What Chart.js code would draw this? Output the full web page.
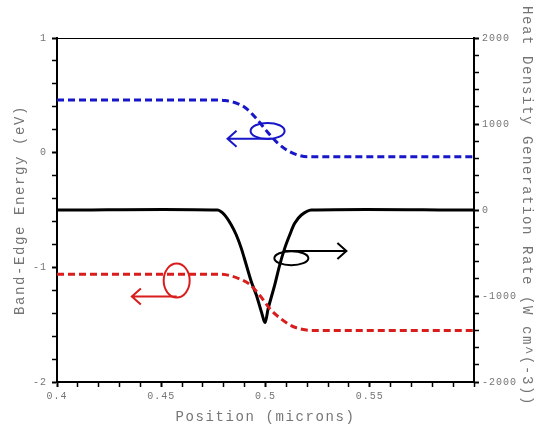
<!DOCTYPE html>
<html>
<head>
<meta charset="utf-8">
<script src="https://cdn.jsdelivr.net/npm/chart.js@4/dist/chart.umd.min.js"></script>
<style>
html, body { margin: 0; padding: 0; background: #fff; }
</style>
</head>
<body>
<canvas id="bandChart" width="539" height="426"></canvas>
<script>
// conduction band edge (left axis, eV)
var cbPos    = [0.400, 0.475, 0.4805, 0.4855, 0.4905, 0.4955, 0.5005, 0.5055, 0.5105, 0.5155, 0.5205, 0.600];
var cbEnergy = [0.46,  0.46,  0.455,  0.435,  0.39,   0.30,   0.19,   0.09,   0.02,   -0.02,  -0.035, -0.035];

// valence band edge (left axis, eV)
var vbPos    = [0.400, 0.477, 0.4825, 0.4875, 0.4925, 0.4975, 0.5025, 0.5075, 0.5125, 0.5175, 0.5225, 0.600];
var vbEnergy = [-1.06, -1.06, -1.07,  -1.10,  -1.15,  -1.25,  -1.37,  -1.45,  -1.51,  -1.54,  -1.55,  -1.55];

// heat density generation rate (right axis, W cm^-3)
var heatPos  = [0.400, 0.4770, 0.4804, 0.4836, 0.4860, 0.4884, 0.4908, 0.4932, 0.4956, 0.4980, 0.4998, 0.5013, 0.5044, 0.5068, 0.5092, 0.5116, 0.5140, 0.5172, 0.5220, 0.600];
var heatRate = [0,     0,      -58,    -174,   -291,   -446,   -640,   -834,   -989,   -1182,  -1307,  -1144,  -873,   -640,   -446,   -291,   -155,   -58,    0,      0];

var xLabels  = [0.4, 0.45, 0.5, 0.55];
var leftLabels  = [1, 0, -1, -2];
var rightLabels = [2000, 1000, 0, -1000, -2000];

var blue = '#1717c9';
var red = '#d91c1c';
var textGray = '#757575';
var monoFont = '"Liberation Mono", "DejaVu Sans Mono", monospace';

function toPoints(xs, ys) {
    return xs.map(function (x, i) { return {x: x, y: ys[i]}; });
}

function near(v, list) {
    for (var i = 0; i < list.length; i++) {
        if (Math.abs(v - list[i]) < 1e-6) return true;
    }
    return false;
}

// the little circle-and-arrow markers that point each curve at its axis
var curveNotes = [
    {axis: 'y',  x: 0.5010, y: 0.19,   rx: 17, ry: 8,  color: blue,   lineY: 0.122,  from: 0.5029, to: 0.4818},
    {axis: 'y',  x: 0.4574, y: -1.115, rx: 13, ry: 17, color: red,    lineY: -1.255, from: 0.4574, to: 0.4359},
    {axis: 'y2', x: 0.5124, y: -560,   rx: 17, ry: 7,  color: '#000', lineY: -477,   from: 0.5091, to: 0.5388}
];

var decorPlugin = {
    id: 'decor',
    beforeDraw: function (chart) {
        chart.ctx.letterSpacing = '1px';
    },
    afterDatasetsDraw: function (chart) {
        var ctx = chart.ctx;
        var xs = chart.scales.x;
        ctx.save();
        ctx.lineWidth = 2;
        curveNotes.forEach(function (n) {
            var ys = chart.scales[n.axis];
            var cx = xs.getPixelForValue(n.x), cy = ys.getPixelForValue(n.y);
            var ly = ys.getPixelForValue(n.lineY);
            var x0 = xs.getPixelForValue(n.from), x1 = xs.getPixelForValue(n.to);
            var dir = x1 < x0 ? 1 : -1;
            ctx.strokeStyle = n.color;
            ctx.beginPath();
            ctx.ellipse(cx, cy, n.rx, n.ry, 0, 0, Math.PI * 2);
            ctx.stroke();
            ctx.beginPath();
            ctx.moveTo(x0, ly);
            ctx.lineTo(x1, ly);
            ctx.moveTo(x1 + dir * 9, ly - 8);
            ctx.lineTo(x1, ly);
            ctx.lineTo(x1 + dir * 9, ly + 8);
            ctx.stroke();
        });
        ctx.restore();
    },
    afterDraw: function (chart) {
        var ctx = chart.ctx;
        var a = chart.chartArea;
        ctx.save();
        // thin top frame
        ctx.strokeStyle = '#000';
        ctx.lineWidth = 1;
        ctx.beginPath();
        ctx.moveTo(a.left, a.top + 0.5);
        ctx.lineTo(a.right, a.top + 0.5);
        ctx.stroke();

        // axis titles
        ctx.fillStyle = textGray;
        ctx.font = '14px ' + monoFont;
        ctx.letterSpacing = '1.6px';
        ctx.textAlign = 'center';
        ctx.textBaseline = 'middle';
        var midY = (a.top + a.bottom) / 2;

        ctx.fillText('Position (microns)', (a.left + a.right) / 2, 417);

        ctx.save();
        ctx.translate(20, midY);
        ctx.rotate(-Math.PI / 2);
        ctx.fillText('Band-Edge Energy (eV)', 0, 0);
        ctx.restore();

        ctx.save();
        ctx.translate(527, midY - 4);
        ctx.rotate(Math.PI / 2);
        ctx.fillText('Heat Density Generation Rate (W cm^(-3))', 0, 0);
        ctx.restore();
        ctx.restore();
    }
};

var tickGrid = {
    drawOnChartArea: false,
    drawTicks: true,
    tickLength: 5,
    tickColor: '#000',
    tickWidth: function (c) { return c.tick && c.tick.label !== '' ? 2 : 1.5; }
};
var tickFont = {family: monoFont, size: 10};

new Chart(document.getElementById('bandChart').getContext('2d'), {
    type: 'line',
    data: {
        datasets: [
            {
                label: 'Conduction band',
                data: toPoints(cbPos, cbEnergy),
                yAxisID: 'y',
                borderColor: blue,
                borderWidth: 3,
                borderDash: [7, 4],
                pointRadius: 0,
                cubicInterpolationMode: 'monotone'
            },
            {
                label: 'Valence band',
                data: toPoints(vbPos, vbEnergy),
                yAxisID: 'y',
                borderColor: red,
                borderWidth: 3,
                borderDash: [7, 4],
                pointRadius: 0,
                cubicInterpolationMode: 'monotone'
            },
            {
                label: 'Heat generation',
                data: toPoints(heatPos, heatRate),
                yAxisID: 'y2',
                borderColor: '#000',
                borderWidth: 3,
                pointRadius: 0,
                tension: 0.3
            }
        ]
    },
    options: {
        responsive: false,
        animation: false,
        devicePixelRatio: 1,
        layout: {padding: {top: 38, left: 0, right: 0, bottom: 0}},
        plugins: {legend: {display: false}, title: {display: false}, tooltip: {enabled: false}},
        scales: {
            x: {
                type: 'linear',
                min: 0.4,
                max: 0.6,
                grid: tickGrid,
                border: {color: '#000', width: 2},
                ticks: {
                    stepSize: 0.01,
                    autoSkip: false,
                    maxTicksLimit: 100,
                    maxRotation: 0,
                    padding: 3,
                    color: textGray,
                    font: tickFont,
                    callback: function (v) {
                        return near(v, xLabels) ? String(Math.round(v * 100) / 100) : '';
                    }
                },
                afterFit: function (s) { s.height = 44; }
            },
            y: {
                position: 'left',
                min: -2,
                max: 1,
                grid: tickGrid,
                border: {color: '#000', width: 2},
                ticks: {
                    stepSize: 0.2,
                    autoSkip: false,
                    maxTicksLimit: 100,
                    padding: 5,
                    color: textGray,
                    font: tickFont,
                    callback: function (v) {
                        return near(v, leftLabels) ? String(Math.round(v)) : '';
                    }
                },
                afterFit: function (s) { s.width = 57; }
            },
            y2: {
                position: 'right',
                min: -2000,
                max: 2000,
                grid: tickGrid,
                border: {color: '#000', width: 2},
                ticks: {
                    stepSize: 200,
                    autoSkip: false,
                    maxTicksLimit: 100,
                    padding: 3,
                    color: textGray,
                    font: tickFont,
                    callback: function (v) {
                        return near(v, rightLabels) ? String(Math.round(v)) : '';
                    }
                },
                afterFit: function (s) { s.width = 65; }
            }
        }
    },
    plugins: [decorPlugin]
});
</script>
</body>
</html>
